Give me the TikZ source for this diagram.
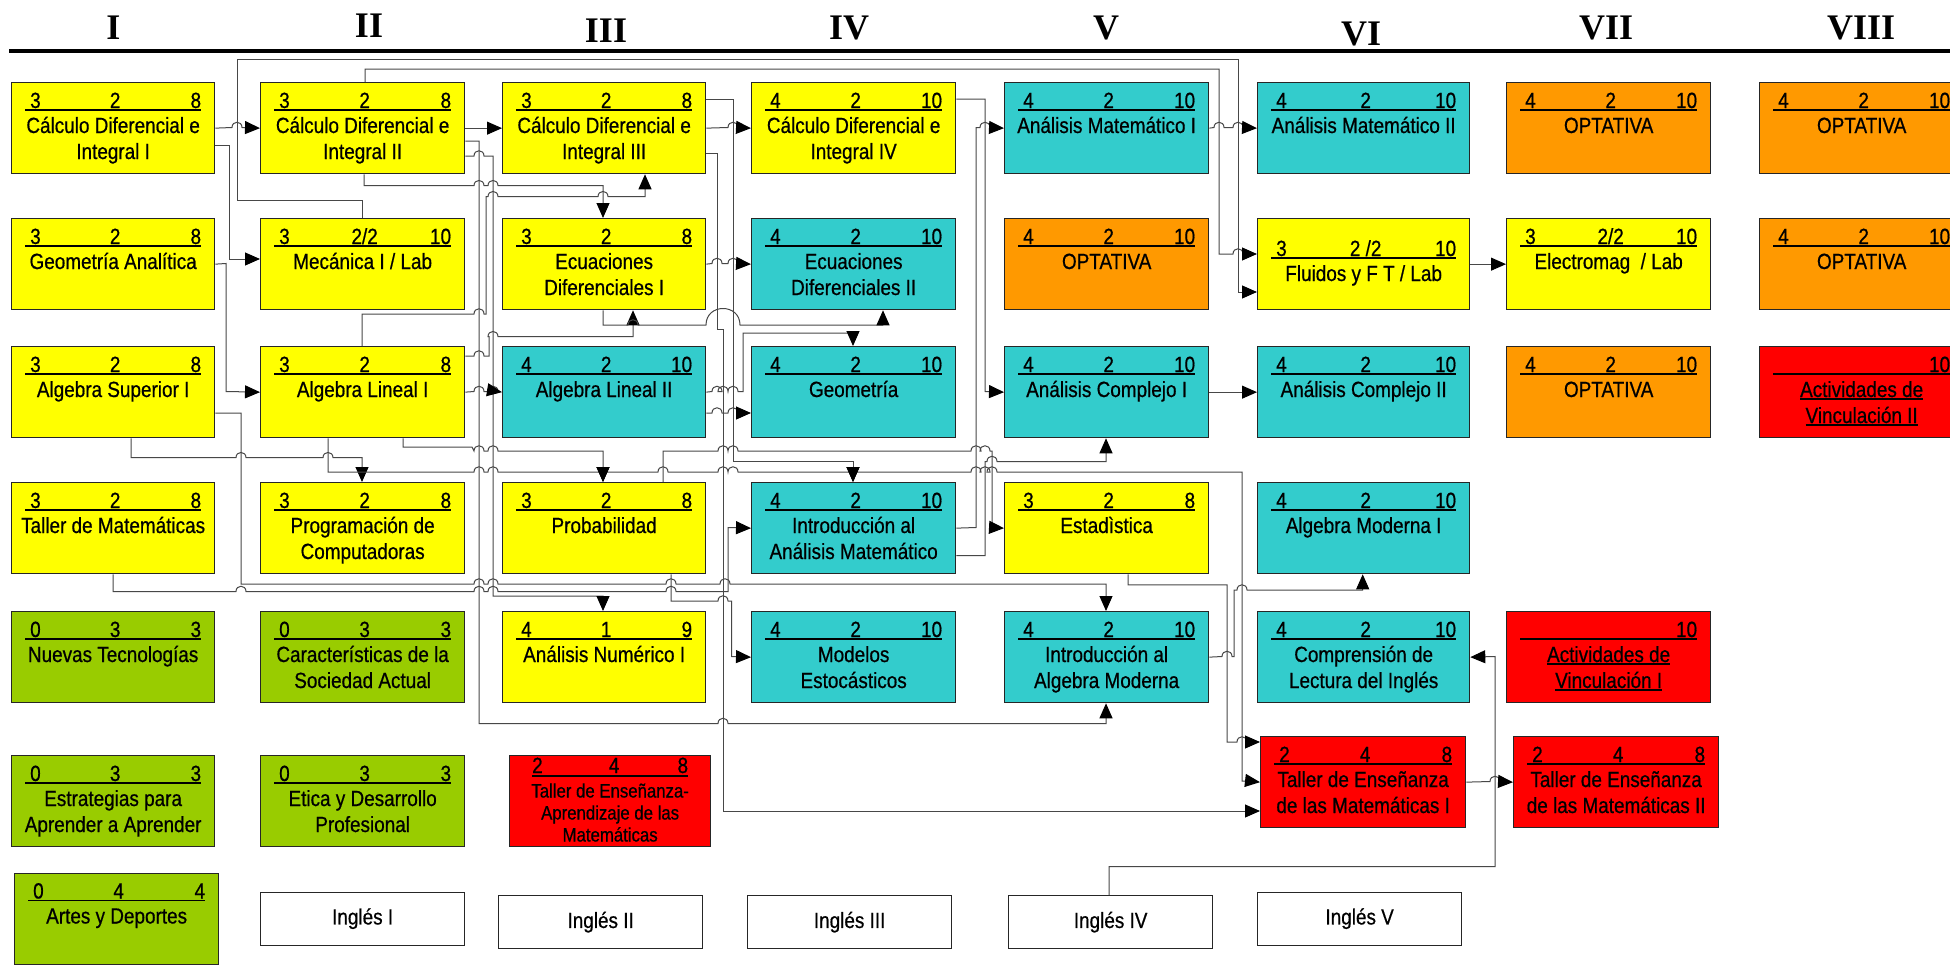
\documentclass[tikz,border=0pt]{standalone}
\usepackage{fontspec}
\setmainfont{Liberation Sans}[FakeStretch=0.86,FakeBold=0.6]
\newfontfamily\romfont{Liberation Serif}
\usetikzlibrary{arrows.meta,calc}
\definecolor{yel}{HTML}{FFFF00}
\definecolor{teal}{HTML}{33CCCC}
\definecolor{orng}{HTML}{FF9900}
\definecolor{redc}{HTML}{FF0000}
\definecolor{grn}{HTML}{99CC00}
\newcommand\ulx[1]{\setbox0\hbox{#1}\rlap{\rule[-2.5pt]{\wd0}{1.4pt}}\box0}
% hop on a horizontal line going right over a vertical line at x=#1, line at y=#2
\newcommand\hh[2]{-- ({#1-5},#2) .. controls ({#1-5},{#2-7}) and ({#1+5},{#2-7}) .. ({#1+5},#2)}
\def\cshift{0}
\newcommand\course[9]{%
  \node[box,fill=#5,minimum width=#4,anchor=north west] (#1) at (#2,#3) {};
  \draw[uline] ([shift={(14,28+\cshift)}]#1.north west) -- ([shift={(-14,28+\cshift)}]#1.north east);
  \node[num,anchor=base west] at ([shift={(19,26+\cshift)}]#1.north west) {#6};
  \node[num,anchor=base] at ([shift={(2,26+\cshift)}]#1.north) {#7};
  \node[num,anchor=base east] at ([shift={(-14,26+\cshift)}]#1.north east) {#8};
  \node[ttl,anchor=base] at ([shift={(0,51+\cshift)}]#1.north) {\begin{tabular}[t]{@{}c@{}}#9\end{tabular}};}
\begin{document}
\begin{tikzpicture}[x=1pt,y=-1pt,
  box/.style={draw=black!85,line width=1.3pt,minimum height=91,inner sep=0pt},
  ing/.style={draw=black!85,line width=1.3pt,fill=white,minimum width=204,minimum height=53,inner sep=0pt,font=\fontsize{22}{26}\selectfont},
  uline/.style={line width=1.6pt},
  num/.style={inner sep=0pt,font=\fontsize{22}{26}\selectfont},
  ttl/.style={inner sep=0pt,font=\fontsize{22}{26}\selectfont},
  rom/.style={inner sep=0pt,anchor=base,font=\romfont\bfseries\fontsize{36}{40}\selectfont},
  conn/.style={draw=black!72,line width=1pt},
  arr/.style={-{Triangle[length=15pt,width=13pt,color=black,fill=black]}}]
\useasboundingbox[fill=white] (0,0) rectangle (1950,969);
% headers
\node[rom] (hI) at (113.5,39) {I};
\node[rom] (hII) at (369,37) {II};
\node[rom] (hIII) at (606,42) {III};
\node[rom] (hIV) at (849,39) {IV};
\node[rom] (hV) at (1106,39) {V};
\node[rom] (hVI) at (1361,45) {VI};
\node[rom] (hVII) at (1606,39) {VII};
\node[rom] (hVIII) at (1861,39) {VIII};
\coordinate (rl) at (9,51);
\coordinate (rr) at (1950,51);
\draw[line width=3.5pt] (rl) -- (rr);
% row 1
\course{c1r1}{11}{82}{203}{yel}{3}{2}{8}{Cálculo Diferencial e\\Integral I}
\course{c2r1}{260}{82}{204}{yel}{3}{2}{8}{Cálculo Diferencial e\\Integral II}
\course{c3r1}{502}{82}{203}{yel}{3}{2}{8}{Cálculo Diferencial e\\Integral III}
\course{c4r1}{751}{82}{204}{yel}{4}{2}{10}{Cálculo Diferencial e\\Integral IV}
\course{c5r1}{1004}{82}{204}{teal}{4}{2}{10}{Análisis Matemático I}
\course{c6r1}{1257}{82}{212}{teal}{4}{2}{10}{Análisis Matemático II}
\course{c7r1}{1506}{82}{204}{orng}{4}{2}{10}{OPTATIVA}
\course{c8r1}{1759}{82}{204}{orng}{4}{2}{10}{OPTATIVA}
% row 2
\course{c1r2}{11}{218}{203}{yel}{3}{2}{8}{Geometría Analítica}
\course{c2r2}{260}{218}{204}{yel}{3}{2/2}{10}{Mecánica I / Lab}
\course{c3r2}{502}{218}{203}{yel}{3}{2}{8}{Ecuaciones\\Diferenciales I}
\course{c4r2}{751}{218}{204}{teal}{4}{2}{10}{Ecuaciones\\Diferenciales II}
\course{c5r2}{1004}{218}{204}{orng}{4}{2}{10}{OPTATIVA}
\def\cshift{12}
\course{c6r2}{1257}{218}{212}{yel}{3}{2 /2}{10}{Fluidos y F T / Lab}
\def\cshift{0}
\course{c7r2}{1506}{218}{204}{yel}{3}{2/2}{10}{Electromag~ / Lab}
\course{c8r2}{1759}{218}{204}{orng}{4}{2}{10}{OPTATIVA}
% row 3
\course{c1r3}{11}{346}{203}{yel}{3}{2}{8}{Algebra Superior I}
\course{c2r3}{260}{346}{204}{yel}{3}{2}{8}{Algebra Lineal I}
\course{c3r3}{502}{346}{203}{teal}{4}{2}{10}{Algebra Lineal II}
\course{c4r3}{751}{346}{204}{teal}{4}{2}{10}{Geometría}
\course{c5r3}{1004}{346}{204}{teal}{4}{2}{10}{Análisis Complejo I}
\course{c6r3}{1257}{346}{212}{teal}{4}{2}{10}{Análisis Complejo II}
\course{c7r3}{1506}{346}{204}{orng}{4}{2}{10}{OPTATIVA}
\course{c8r3}{1759}{346}{204}{redc}{}{}{10}{\ulx{Actividades de}\\\ulx{Vinculación II}}
% row 4
\course{c1r4}{11}{482}{203}{yel}{3}{2}{8}{Taller de Matemáticas}
\course{c2r4}{260}{482}{204}{yel}{3}{2}{8}{Programación de\\Computadoras}
\course{c3r4}{502}{482}{203}{yel}{3}{2}{8}{Probabilidad}
\course{c4r4}{751}{482}{204}{teal}{4}{2}{10}{Introducción al\\Análisis Matemático}
\course{c5r4}{1004}{482}{204}{yel}{3}{2}{8}{Estadìstica}
\course{c6r4}{1257}{482}{212}{teal}{4}{2}{10}{Algebra Moderna I}
% row 5
\course{c1r5}{11}{611}{203}{grn}{0}{3}{3}{Nuevas Tecnologías}
\course{c2r5}{260}{611}{204}{grn}{0}{3}{3}{Características de la\\Sociedad Actual}
\course{c3r5}{502}{611}{203}{yel}{4}{1}{9}{Análisis Numérico I}
\course{c4r5}{751}{611}{204}{teal}{4}{2}{10}{Modelos\\Estocásticos}
\course{c5r5}{1004}{611}{204}{teal}{4}{2}{10}{Introducción al\\Algebra Moderna}
\course{c6r5}{1257}{611}{212}{teal}{4}{2}{10}{Comprensión de\\Lectura del Inglés}
\course{c7r5}{1506}{611}{204}{redc}{}{}{10}{\ulx{Actividades de}\\\ulx{Vinculación I}}
% row 6
\course{c1r6}{11}{755}{203}{grn}{0}{3}{3}{Estrategias para\\Aprender a Aprender}
\course{c2r6}{260}{755}{204}{grn}{0}{3}{3}{Etica y Desarrollo\\Profesional}
\course{c6r6}{1260}{736}{205}{redc}{2}{4}{8}{Taller de Enseñanza\\de las Matemáticas I}
\course{c7r6}{1513}{736}{205}{redc}{2}{4}{8}{Taller de Enseñanza\\de las Matemáticas II}
% special red box
\node[box,fill=redc,minimum width=201,anchor=north west] (c3r6) at (509,755) {};
\draw[uline] ([shift={(23,21)}]c3r6.north west) -- ([shift={(-23,21)}]c3r6.north east);
\node[num,anchor=base west] at ([shift={(23,18)}]c3r6.north west) {2};
\node[num,anchor=base] at ([shift={(4,18)}]c3r6.north) {4};
\node[num,anchor=base east] at ([shift={(-23,18)}]c3r6.north east) {8};
\node[ttl,anchor=base,font=\fontsize{19.5}{22}\selectfont] at ([shift={(0,42.5)}]c3r6.north) {\begin{tabular}[t]{@{}c@{}}Taller de Enseñanza-\\Aprendizaje de las\\Matemáticas\end{tabular}};
% row 7
\course{c1r7}{14}{872.5}{204}{grn}{0}{4}{4}{Artes y Deportes}
\node[ing,anchor=north west] (ing1) at (260,891.5) {Inglés I};
\node[ing,anchor=north west] (ing2) at (498,895) {Inglés II};
\node[ing,anchor=north west] (ing3) at (747,895) {Inglés III};
\node[ing,anchor=north west] (ing4) at (1008,895) {Inglés IV};
\node[ing,anchor=north west] (ing5) at (1257,891.5) {Inglés V};
% ---------------- connectors
\begin{scope}[conn]
\draw[arr] (c1r1.east) \hh{237}{127.5} -- (c2r1.west);
\draw[arr] (c1r1.east |- 0,145) -- (229,145) -- (229,259) -- (c2r2.west |- 0,259);
\draw[arr] (362,0 |- c2r2.north) -- (362,200) -- (237,200) -- (237,59) -- (1238,59) -- (1238,292) -- (c6r2.west |- 0,292);
\draw[arr] (365,0 |- c2r1.north) -- (365,69) -- (1219,69) -- (1219,254) \hh{1238}{254} -- (c6r2.west |- 0,254);
\draw[arr] (c2r1.east) -- (c3r1.west);
\draw[arr] (c1r2.east) -- (226,263.5) -- (226,391.5) -- (c2r3.west);
\draw[arr] (c1r3.east |- 0,413) -- (241,413) -- (241,584) \hh{479}{584} \hh{493}{584} \hh{671}{584} \hh{725}{584} -- (1106,584) -- (1106,0 |- c5r5.north);
\draw[arr] (113,0 |- c1r4.south) -- (113,591.5) \hh{241}{591.5} \hh{479}{591.5} \hh{493}{591.5} \hh{671}{591.5} -- (728,591.5) -- (728,527.5) -- (c4r4.west);
\draw[arr] (131,0 |- c1r3.south) -- (131,457.7) \hh{241}{457.7} \hh{328}{457.7} -- (362,457.7) -- (362,0 |- c2r4.north);
\draw (328,0 |- c2r3.south) -- (328,472) \hh{479}{472} \hh{493}{472} \hh{663}{472} \hh{723}{472} \hh{733}{472} \hh{976}{472} \hh{985}{472} \hh{992}{472} -- (1242,472) -- (1242,781) -- (1250,781);
\draw[arr] (1250,781) -- (c6r6.west);
\draw[arr] (603,472) -- (603,0 |- c3r4.north);
\draw[arr] (853,472) -- (853,0 |- c4r4.north);
\draw[arr] (403,0 |- c2r3.south) -- (403,447) -- (472,447) -- (474,451) \hh{479}{451} \hh{493}{451} -- (603,451) -- (603,0 |- c3r4.north);
\draw[arr] (c2r1.east |- 0,141) -- (479,141) -- (479,723.5) \hh{723}{723.5} -- (1106,723.5) -- (1106,0 |- c5r5.south);
\draw[arr] (c2r1.east |- 0,156) \hh{479}{156} -- (493,156) -- (493,596) -- (603,596) -- (603,0 |- c3r5.north);
\draw[arr] (364,0 |- c2r1.south) -- (364,185.7) \hh{479}{185.7} \hh{493}{185.7} -- (603,185.7) -- (603,0 |- c3r2.north);
\draw[arr] (362,0 |- c2r3.north) -- (362,314) \hh{479}{314} -- (486,314) -- (486,196.7) \hh{493}{196.7} \hh{603}{196.7} -- (645,196.7) -- (645,0 |- c3r1.south);
\draw[arr] (c2r3.east |- 0,356) \hh{479}{356} -- (489,356) -- (489,336.7) \hh{493}{336.7} -- (633,336.7) -- (633,0 |- c3r2.south);
\draw[arr] (c2r3.east) \hh{479}{391.5} \hh{493}{391.5} -- (c3r3.west);
\draw[arr] (c3r2.east) \hh{717}{263.5} \hh{733}{263.5} -- (c4r2.west);
\draw[arr] (c3r1.east |- 0,99) -- (733,99) -- (733,461.7) -- (853,461.7) -- (853,0 |- c4r4.north);
\draw[arr] (c3r1.east) \hh{733}{127.5} -- (c4r1.west);
\draw[arr] (c3r1.east |- 0,153) -- (717,153) -- (717,329) -- (723,329) -- (723,811) -- (c6r6.west |- 0,811);
\draw[arr] (603,0 |- c3r2.south) -- (603,325) \hh{633}{325} -- (706,325) .. controls (706,303) and (740,303) .. (740,325) -- (883,325) -- (883,0 |- c4r2.south);
\draw[arr] (c3r3.east) \hh{717}{391.5} \hh{723}{391.5} \hh{733}{391.5} -- (743,391.5) -- (743,333) -- (853,333) -- (853,0 |- c4r3.north);
\draw[arr] (c3r3.east |- 0,413) \hh{717}{413} \hh{733}{413} -- (c4r3.west |- 0,413);
\draw[arr] (671,0 |- c3r4.south) -- (671,601) \hh{723}{601} -- (731.7,601) -- (731.7,656.5) -- (c4r5.west);
\draw[arr] (663,0 |- c3r4.north) -- (663,451) \hh{723}{451} \hh{733}{451} \hh{976}{451} \hh{985}{451} -- (992,451) -- (992,527.5) -- (c5r4.west);
\draw[arr] (c4r4.east) -- (976,527.5) -- (976,127.5) \hh{985}{127.5} -- (c5r1.west);
\draw[arr] (c4r4.east |- 0,555.6) -- (985,555.6) -- (985,461.5) \hh{992}{461.5} -- (1106,461.5) -- (1106,0 |- c5r3.south);
\draw[arr] (c4r1.east |- 0,99) -- (985,99) -- (985,391.5) -- (c5r3.west);
\draw[arr] (c5r1.east) \hh{1219}{127.5} \hh{1238}{127.5} -- (c6r1.west);
\draw[arr] (c5r3.east) -- (c6r3.west);
\draw[arr] (c6r2.east) -- (c7r2.west);
\draw[arr] (1128,0 |- c5r4.south) -- (1128,584.8) -- (1227,584.8) -- (1227,742) \hh{1242}{742} -- (c6r6.west |- 0,742);
\draw[arr] (c5r5.east) \hh{1227}{656.5} -- (1234,656.5) -- (1234,590) \hh{1242}{590} -- (1362.7,590) -- (1362.7,0 |- c6r4.south);
\draw[arr] (1109,0 |- ing4.north) -- (1109,866.5) -- (1495,866.5) -- (1495,656.5) -- (c6r5.east);
\draw[arr] (c6r6.east) \hh{1495}{781.5} -- (c7r6.west);
\end{scope}
\end{tikzpicture}
\end{document}
